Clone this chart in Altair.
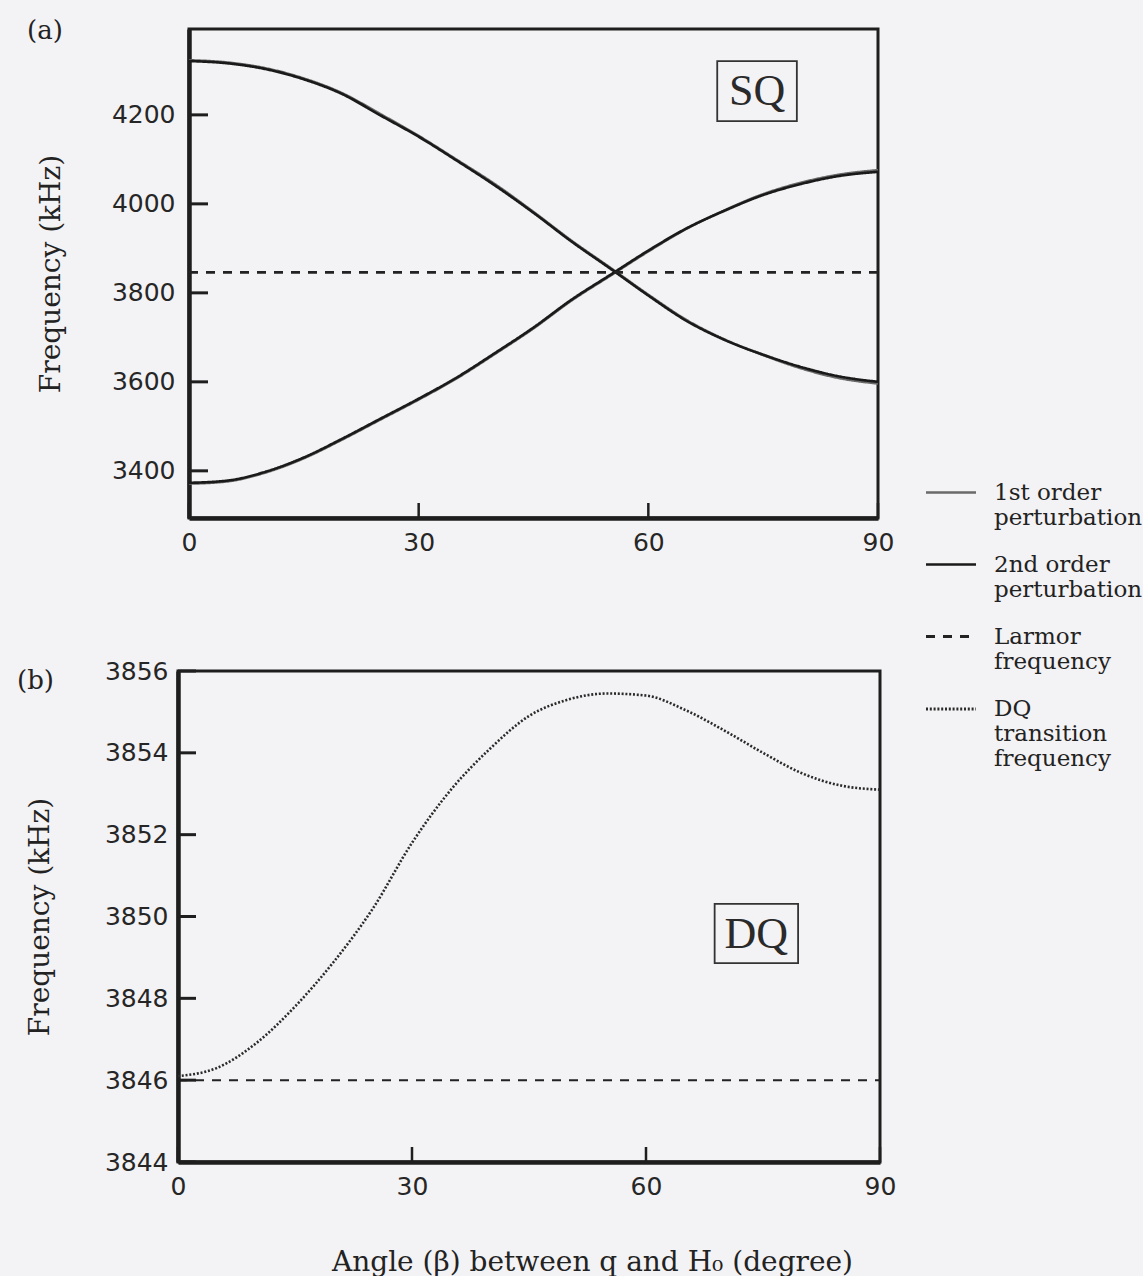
import altair as alt
import pandas as pd

# ---------------- data ----------------
beta = [0, 5, 10, 15, 20, 25, 30, 35, 40, 45, 50, 55, 60, 65, 70, 75, 80, 85, 90]

# SQ transitions (kHz), 2nd order perturbation
sq_upper_2nd = [4321, 4316, 4303, 4280, 4247, 4199, 4151, 4097, 4041, 3980, 3915, 3855,
                3794, 3737, 3694, 3661, 3633, 3612, 3600]
sq_lower_2nd = [3373, 3378, 3398, 3430, 3472, 3517, 3562, 3610, 3665, 3722, 3785, 3840,
                3895, 3945, 3985, 4020, 4045, 4063, 4072]
# SQ transitions (kHz), 1st order perturbation
sq_upper_1st = [4323, 4318, 4305, 4282, 4249, 4202, 4153, 4099, 4044, 3982, 3917, 3857,
                3796, 3739, 3695, 3660, 3630, 3608, 3596]
sq_lower_1st = [3371, 3376, 3396, 3428, 3470, 3515, 3560, 3608, 3663, 3720, 3783, 3838,
                3893, 3944, 3986, 4022, 4048, 4066, 4076]

# DQ transition frequency (kHz)
dq_freq = [3846.1, 3846.3, 3846.9, 3847.8, 3848.9, 3850.2, 3851.8, 3853.1, 3854.1, 3854.9,
           3855.3, 3855.45, 3855.4, 3855.05, 3854.55, 3854.0, 3853.5, 3853.2, 3853.1]

larmor_beta = [0, 90]
larmor_freq = [3846, 3846]

series_names = ["1st order|perturbation", "2nd order|perturbation",
                "Larmor|frequency", "DQ|transition|frequency"]

x_ticks = [0, 30, 60, 90]
ya_ticks = [3400, 3600, 3800, 4000, 4200]
yb_ticks = [3844, 3846, 3848, 3850, 3852, 3854, 3856]

# ---------------- styles ----------------
series_colors = ["#6a6a6a", "#1a1a1a", "#222222", "#2a2a2a"]
series_dash = [[1, 0], [1, 0], [9, 8], [2, 1.8]]
series_width = [2.4, 3.2, 2.0, 2.6]

INK = "#222222"
BG = "#f3f2f4"
SERIF = "DejaVu Serif"
SANS = "DejaVu Sans"

WA, HA = 700, 489      # panel (a) view (plot starts 11 px in)
WB, HB = 702, 491      # panel (b) view

XA = alt.Scale(domain=[0, 90], range=[11, WA], nice=False, zero=False)
YA = alt.Scale(domain=[3294, 4393], nice=False, zero=False)
XB = alt.Scale(domain=[0, 90], nice=False, zero=False)
YB = alt.Scale(domain=[3844, 3856], nice=False, zero=False)

# ---------------- tables ----------------
def long(series, xs, ys, branch):
    return pd.DataFrame({"beta": xs, "freq": ys, "series": series, "branch": branch})

df_1st = pd.concat([long(series_names[0], beta, sq_upper_1st, "hi"),
                    long(series_names[0], beta, sq_lower_1st, "lo")])
df_2nd = pd.concat([long(series_names[1], beta, sq_upper_2nd, "hi"),
                    long(series_names[1], beta, sq_lower_2nd, "lo")])
df_lar = long(series_names[2], larmor_beta, larmor_freq, "L")
df_dq = pd.DataFrame({"beta": beta, "freq": dq_freq})
df_lar_b = pd.DataFrame({"beta": larmor_beta, "freq": larmor_freq})

frame_a = pd.DataFrame({"beta": [0], "x1": [90], "freq": [3294], "y1": [4393]})
frame_b = pd.DataFrame({"beta": [0], "x1": [90], "freq": [3844], "y1": [3856]})
box_a = pd.DataFrame({"beta": [69.0], "x1": [79.4], "freq": [4186], "y1": [4321],
                      "tx": [74.2], "ty": [4252], "t": ["SQ"]})
box_b = pd.DataFrame({"beta": [68.8], "x1": [79.5], "freq": [3848.86], "y1": [3850.31],
                      "tx": [74.15], "ty": [3849.55], "t": ["DQ"]})

# ---------------- encodings ----------------
leg = alt.Legend(title=None, orient="none", legendX=746, legendY=437,
                 symbolType="stroke", symbolSize=2500,
                 labelFont=SERIF, labelFontSize=23, labelColor=INK,
                 labelExpr="split(datum.label, '|')",
                 rowPadding=8, labelOffset=16, labelLimit=400, padding=0)

color = alt.Color("series:N", scale=alt.Scale(domain=series_names, range=series_colors), legend=leg)
dash = alt.StrokeDash("series:N", scale=alt.Scale(domain=series_names, range=series_dash), legend=leg)
width = alt.StrokeWidth("series:N", scale=alt.Scale(domain=series_names, range=series_width), legend=leg)

ax_common = dict(labelFont=SANS, labelFontSize=25, labelColor="#262626", ticks=False,
                 grid=False, domainColor="#1e1e1e", domainWidth=4.5, format="d",
                 labelFlush=False)
ttl = dict(titleFont=SERIF, titleFontSize=28, titleFontWeight="normal", titleColor=INK)

axA_x = alt.Axis(values=x_ticks, labelPadding=12, title=None, **ax_common)
axA_y = alt.Axis(values=ya_ticks, labelPadding=14, offset=-11, title="Frequency (kHz)",
                 titlePadding=46, **ttl, **ax_common)
axB_x = alt.Axis(values=x_ticks, labelPadding=12, title="Angle (β) between q and H₀ (degree)",
                 titleX=414, titleY=108, titleBaseline="alphabetic", titleAlign="center",
                 **ttl, **ax_common)
axB_y = alt.Axis(values=yb_ticks, labelPadding=10, title="Frequency (kHz)",
                 titlePadding=50, **ttl, **ax_common)

XEA = alt.X("beta:Q", scale=XA, axis=axA_x)
YEA = alt.Y("freq:Q", scale=YA, axis=axA_y)
XEB = alt.X("beta:Q", scale=XB, axis=axB_x)
YEB = alt.Y("freq:Q", scale=YB, axis=axB_y)

# ---------------- panel (a) ----------------
def sq_layer(df):
    return alt.Chart(df).mark_line(interpolate="monotone").encode(
        x=XEA, y=YEA, detail="branch:N", color=color, strokeDash=dash, strokeWidth=width)

a_frame = alt.Chart(frame_a).mark_rect(fillOpacity=0, stroke="#1e1e1e", strokeWidth=3).encode(
    x=XEA, x2="x1:Q", y=YEA, y2="y1:Q")
a_yt = alt.Chart(pd.DataFrame({"freq": ya_ticks})).mark_rule(color="#1e1e1e", strokeWidth=3).encode(
    y=YEA, x=alt.value(11), x2=alt.value(30))
a_xt = alt.Chart(pd.DataFrame({"beta": x_ticks})).mark_rule(color="#1e1e1e", strokeWidth=2.5).encode(
    x=XEA, y=alt.value(HA), y2=alt.value(HA - 15))
a_box = alt.Chart(box_a).mark_rect(fillOpacity=0, stroke="#333", strokeWidth=1.8).encode(
    x=XEA, x2="x1:Q", y=YEA, y2="y1:Q")
a_boxt = alt.Chart(box_a).mark_text(font="Liberation Serif", fontSize=44, color="#2a2a2a",
                                     baseline="middle", align="center").encode(
    x=alt.X("tx:Q", scale=XA, axis=axA_x), y=alt.Y("ty:Q", scale=YA, axis=axA_y), text="t:N")
a_lab = alt.Chart(pd.DataFrame({"t": ["(a)"]})).mark_text(
    font=SERIF, fontSize=26, color=INK, align="left", baseline="top").encode(
    text="t:N", x=alt.value(-151), y=alt.value(-11))

panel_a = alt.layer(
    a_frame,
    sq_layer(df_1st),
    sq_layer(df_2nd),
    sq_layer(df_lar),
    a_yt, a_xt, a_box, a_boxt, a_lab,
).properties(width=WA, height=HA)

# ---------------- panel (b) ----------------
b_frame = alt.Chart(frame_b).mark_rect(fillOpacity=0, stroke="#1e1e1e", strokeWidth=3).encode(
    x=XEB, x2="x1:Q", y=YEB, y2="y1:Q")
b_dq = alt.Chart(df_dq).mark_line(interpolate="monotone", strokeDash=series_dash[3],
                                  strokeWidth=series_width[3], color=series_colors[3]).encode(
    x=XEB, y=YEB)
b_lar = alt.Chart(df_lar_b).mark_line(strokeDash=series_dash[2], strokeWidth=series_width[2],
                                      color=series_colors[2]).encode(x=XEB, y=YEB)
b_yt = alt.Chart(pd.DataFrame({"freq": yb_ticks})).mark_rule(color="#1e1e1e", strokeWidth=3).encode(
    y=YEB, x=alt.value(0), x2=alt.value(18))
b_xt = alt.Chart(pd.DataFrame({"beta": x_ticks})).mark_rule(color="#1e1e1e", strokeWidth=2.5).encode(
    x=XEB, y=alt.value(HB), y2=alt.value(HB - 15))
b_box = alt.Chart(box_b).mark_rect(fillOpacity=0, stroke="#333", strokeWidth=1.8).encode(
    x=XEB, x2="x1:Q", y=YEB, y2="y1:Q")
b_boxt = alt.Chart(box_b).mark_text(font="Liberation Serif", fontSize=44, color="#2a2a2a",
                                     baseline="middle", align="center").encode(
    x=alt.X("tx:Q", scale=XB, axis=axB_x), y=alt.Y("ty:Q", scale=YB, axis=axB_y), text="t:N")
b_lab = alt.Chart(pd.DataFrame({"t": ["(b)"]})).mark_text(
    font=SERIF, fontSize=26, color=INK, align="left", baseline="top").encode(
    text="t:N", x=alt.value(-161), y=alt.value(-3))

panel_b = alt.layer(
    b_frame, b_dq, b_lar, b_yt, b_xt, b_box, b_boxt, b_lab,
).properties(width=WB, height=HB)

chart = alt.vconcat(panel_a, panel_b, spacing=153, bounds="flush").resolve_scale(
    x="independent", y="independent"
).properties(
    padding={"left": 17, "top": 18, "right": 0, "bottom": 0},
    background=BG,
).configure_view(stroke=None)

chart.save("out.html", embed_options={"renderer": "svg", "actions": False})
